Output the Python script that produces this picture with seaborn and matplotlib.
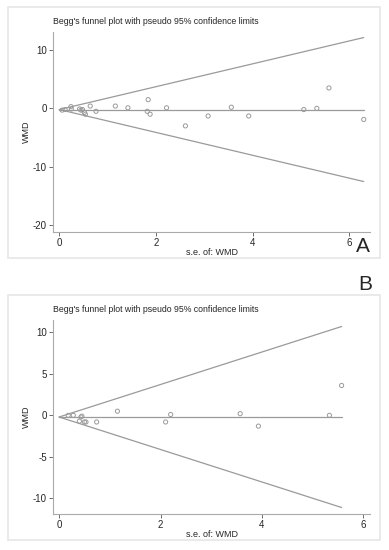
import numpy as np
import pandas as pd
import matplotlib
matplotlib.use("Agg")
import matplotlib.pyplot as plt
import seaborn as sns
from matplotlib.patches import Rectangle

# panel A: standard error and WMD of each study
se_a = [0.06, 0.12, 0.24, 0.25, 0.42, 0.45, 0.48, 0.52, 0.54, 0.64, 0.76,
        1.16, 1.42, 1.82, 1.84, 1.88, 2.22, 2.61, 3.08, 3.56, 3.92, 5.06,
        5.33, 5.58, 6.30]
wmd_a = [-0.3, -0.2, 0.3, -0.1, -0.1, -0.3, -0.2, -0.7, -1.0, 0.4, -0.5,
         0.4, 0.1, -0.5, 1.5, -1.0, 0.1, -3.0, -1.3, 0.2, -1.3, -0.2,
         0.0, 3.5, -1.9]
pooled_a = -0.2
semax_a = 6.30

# panel B
se_b = [0.18, 0.28, 0.40, 0.43, 0.45, 0.50, 0.53, 0.74, 1.15, 2.10, 2.20,
        3.57, 3.93, 5.33, 5.57]
wmd_b = [0.0, 0.0, -0.7, -0.2, -0.1, -0.8, -0.8, -0.8, 0.5, -0.8, 0.1,
         0.2, -1.3, 0.0, 3.6]
pooled_b = -0.2
semax_b = 5.57

sns.set_theme(style="ticks")
plt.rcParams['font.family'] = ['Liberation Sans', 'DejaVu Sans']
plt.rcParams['axes.unicode_minus'] = False

gray = "#9a9a9a"
fig = plt.figure(figsize=(3.89, 5.5), dpi=100)

# panel frames like the Stata graph region
fig.patches.append(Rectangle((8/389, 1-258/550), 372/389, 251/550, transform=fig.transFigure,
                             fill=False, edgecolor="#e6e6e6", linewidth=1.2))
fig.patches.append(Rectangle((8/389, 1-540/550), 372/389, 245/550, transform=fig.transFigure,
                             fill=False, edgecolor="#e6e6e6", linewidth=1.2))


def funnel(ax, se, wmd, pooled, semax, xlim, ylim, yticks):
    s = np.linspace(0, semax, 50)
    lines = pd.DataFrame({"se": np.concatenate([s, s, s]),
                          "y": np.concatenate([pooled + 1.96*s, pooled - 1.96*s, pooled + 0*s]),
                          "k": ["u"]*50 + ["l"]*50 + ["c"]*50})
    sns.lineplot(data=lines, x="se", y="y", units="k", estimator=None, color=gray,
                 linewidth=0.9, ax=ax, sort=False)
    sns.scatterplot(x=se, y=wmd, ax=ax, marker="o", s=9, facecolor="none",
                    edgecolor=gray, linewidth=0.7)
    ax.set_xlim(xlim)
    ax.set_ylim(ylim)
    ax.set_xticks([0, 2, 4, 6])
    ax.set_yticks(yticks)
    ax.tick_params(labelsize=7, length=3, width=0.6, color="#555555", pad=1.5)
    ax.set_xlabel("s.e. of: WMD", fontsize=6.5, labelpad=0)
    ax.set_ylabel("WMD", fontsize=6.5, labelpad=1)
    for sp in ["left", "bottom"]:
        ax.spines[sp].set_color("#aaaaaa")
        ax.spines[sp].set_linewidth(0.8)
    sns.despine(ax=ax)


ax1 = fig.add_axes([53/389, 1-232/550, 317/389, 200/550])
funnel(ax1, se_a, wmd_a, pooled_a, semax_a, (-0.13, 6.43), (-21.2, 13.1), [-20, -10, 0, 10])
ax1.set_title("Begg's funnel plot with pseudo 95% confidence limits", fontsize=6.3,
              loc="left", pad=6)

ax2 = fig.add_axes([53/389, 1-514/550, 317/389, 194/550])
funnel(ax2, se_b, wmd_b, pooled_b, semax_b, (-0.12, 6.13), (-11.9, 11.5), [-10, -5, 0, 5, 10])
ax2.set_title("Begg's funnel plot with pseudo 95% confidence limits", fontsize=6.3,
              loc="left", pad=6)

fig.text(363/389, 1-247/550, "A", fontsize=15, ha="center", va="center")
fig.text(365/389, 1-284/550, "B", fontsize=15, ha="center", va="center")

fig.savefig("out.png", dpi=100)
